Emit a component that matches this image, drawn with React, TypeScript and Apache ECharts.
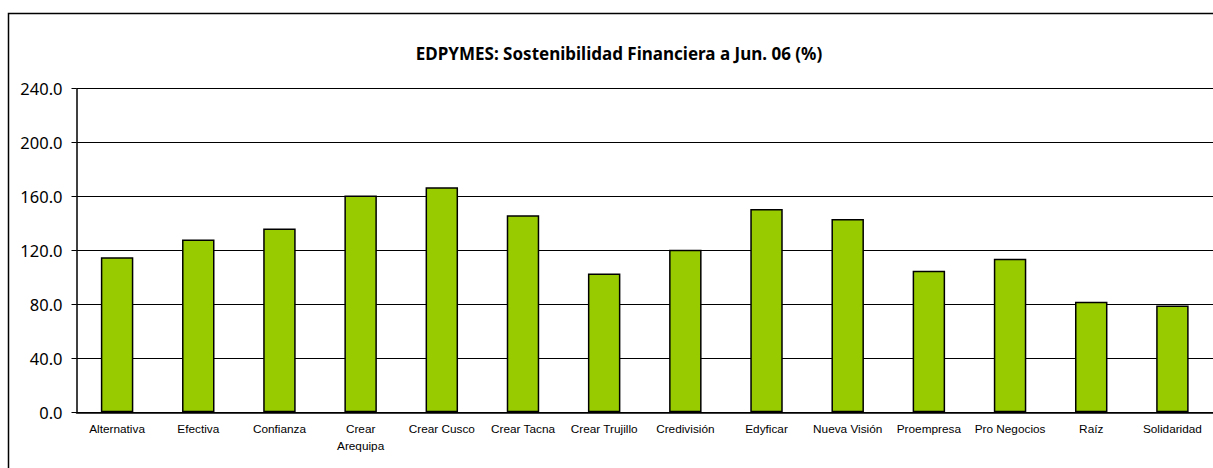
import React, { useEffect, useRef } from "react";
import * as echarts from "echarts";

const titleText = "EDPYMES: Sostenibilidad Financiera a Jun. 06 (%)";
const categories = [
  "Alternativa",
  "Efectiva",
  "Confianza",
  "Crear\nArequipa",
  "Crear Cusco",
  "Crear Tacna",
  "Crear Trujillo",
  "Credivisión",
  "Edyficar",
  "Nueva Visión",
  "Proempresa",
  "Pro Negocios",
  "Raíz",
  "Solidaridad",
];
const values = [115.0, 128.1, 136.3, 160.7, 166.9, 146.1, 103.0, 120.5, 150.8, 143.4, 104.9, 113.8, 81.9, 79.2];
const yMin = 0;
const yMax = 240;
const yStep = 40;

export default function App() {
  const ref = useRef<HTMLDivElement>(null);
  useEffect(() => {
    document.body.style.margin = "0";
    const chart = echarts.init(ref.current!, null, { renderer: "svg" });
    chart.setOption({
      animation: false,
      backgroundColor: "#ffffff",
      title: {
        text: titleText,
        left: 614,
        textAlign: "center",
        top: 40,
        textStyle: {
          fontFamily: "Noto Sans",
          fontSize: 17,
          fontWeight: "bold",
          color: "#000",
        },
      },
      graphic: [
        {
          type: "rect",
          shape: { x: 8.5, y: 13.5, width: 1400, height: 700 },
          style: { fill: "none", stroke: "#000", lineWidth: 1.5 },
          silent: true,
          z: -1,
        },
      ],
      grid: { left: 76.5, right: 0, top: 88.7, bottom: 55.7, containLabel: false },
      xAxis: {
        type: "category",
        data: categories,
        axisLine: { show: true, lineStyle: { color: "#000", width: 1.5 } },
        axisTick: { show: false },
        axisLabel: {
          interval: 0,
          margin: 8,
          fontFamily: "Liberation Sans",
          fontSize: 11.8,
          color: "#000",
          lineHeight: 17,
        },
      },
      yAxis: {
        type: "value",
        min: yMin,
        max: yMax,
        interval: yStep,
        axisLine: { show: true, lineStyle: { color: "#000", width: 1.5 } },
        axisTick: { show: true, length: 5, lineStyle: { color: "#000", width: 1 } },
        splitLine: { show: true, lineStyle: { color: "#000", width: 1 } },
        axisLabel: {
          margin: 14,
          fontFamily: "Noto Sans",
          fontSize: 16.5,
          color: "#000",
          formatter: (v: number) => v.toFixed(1),
        },
      },
      series: [
        {
          type: "bar",
          data: values,
          barWidth: "40%",
          itemStyle: {
            color: "#99CC00",
            borderColor: "#000",
            borderWidth: 1.5,
          },
        },
      ],
    });
    return () => chart.dispose();
  }, []);
  return (
    <div
      ref={ref}
      style={{ position: "absolute", left: 0, top: 0, width: 1213, height: 468 }}
    />
  );
}
